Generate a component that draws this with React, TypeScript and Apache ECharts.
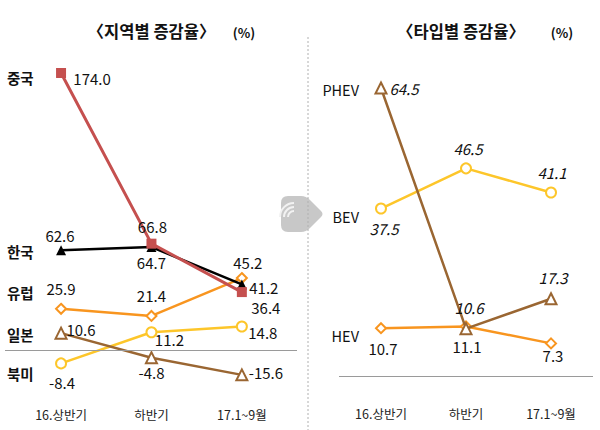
import React, { useEffect, useRef } from "react";
import * as echarts from "echarts";

const categories = ["16.상반기", "하반기", "17.1~9월"];

// Left panel: growth rate by region (%)
const china = [174.0, 66.8, 36.4];
const korea = [62.6, 64.7, 41.2];
const europe = [25.9, 21.4, 45.2];
const japan = [10.6, -4.8, -15.6];
const northAmerica = [-8.4, 11.2, 14.8];

// Right panel: growth rate by type (%)
const phev = [64.5, 10.6, 17.3];
const bev = [37.5, 46.5, 41.1];
const hev = [10.7, 11.1, 7.3];

const FONT = '"Noto Sans CJK KR", "Noto Sans", sans-serif';
const RED = "#c5504f";
const BLACK = "#000000";
const ORANGE = "#f8951f";
const YELLOW = "#fdc62a";
const BROWN = "#9a6632";

// label offsets (center of label relative to point), layout only
const offChina = [[31, 6], [1, -17], [24, 15]];
const offKorea = [[-1, -15], [0, 15], [22, 3]];
const offEurope = [[0, -20], [0, -20], [6, -16]];
const offJapan = [[20, -4], [0, 15], [24, -2]];
const offNA = [[1, 19], [18, 7], [21, 6]];
const offPhev = [[23, 1], [3, -21], [2, -21]];
const offBev = [[3, 20], [2, -20], [1, -20]];
const offHev = [[2, 20], [1, 20], [2, 12]];

function mkSeries(
  name: string,
  values: number[],
  offs: number[][],
  color: string,
  symbol: string,
  hollow: boolean,
  axisIdx: number,
  italic: boolean,
  width: number,
  size: number,
  z: number
) {
  return {
    type: "line",
    name,
    xAxisIndex: axisIdx,
    yAxisIndex: axisIdx,
    z,
    symbol,
    symbolSize: size,
    showAllSymbol: true,
    lineStyle: { color, width },
    itemStyle: {
      color: hollow ? "#ffffff" : color,
      borderColor: color,
      borderWidth: hollow ? 2 : 0,
    },
    label: {
      show: true,
      position: "inside",
      align: "center",
      verticalAlign: "middle",
      color: "#111111",
      fontSize: 15,
      fontFamily: FONT,
      fontStyle: italic ? "italic" : "normal",
      formatter: (p: any) => Number(p.value[1]).toFixed(1),
    },
    emphasis: { disabled: true },
    data: values.map((v, i) => ({
      value: [i, v],
      label: { offset: offs[i] },
    })),
  };
}

const zeroLine = {
  silent: true,
  symbol: "none",
  label: { show: false },
  lineStyle: { color: "#9a9a9a", width: 1, type: "solid" },
  data: [{ yAxis: 0 }],
};

export default function App() {
  const ref = useRef<HTMLDivElement>(null);

  useEffect(() => {
    if (!ref.current) return;
    echarts.graphic.registerShape(
      "playIcon",
      echarts.graphic.extendPath(
        "M7 0 L20 0 Q25 0 29 4 L40 15 Q43 18 40 21 L29 32 Q25 36 20 36 L7 36 Q0 36 0 29 L0 7 Q0 0 7 0 Z",
        {}
      )
    );
    const chart = echarts.init(ref.current, null, { renderer: "svg" });

    const xAxisBase = (min: number, max: number, gridIndex: number, margin: number) => ({
      type: "value",
      gridIndex,
      min,
      max,
      axisLine: { show: false },
      axisTick: { show: false },
      splitLine: { show: false },
      axisLabel: {
        customValues: [0, 1, 2],
        formatter: (v: number) => categories[Math.round(v)] ?? "",
        color: "#222",
        fontSize: 12.5,
        fontFamily: FONT,
        margin,
      },
    });
    const yAxisBase = (min: number, max: number, gridIndex: number) => ({
      type: "value",
      gridIndex,
      min,
      max,
      axisLine: { show: false },
      axisTick: { show: false },
      splitLine: { show: false },
      axisLabel: { show: false },
    });

    const textStyle = (t: string, size: number, weight: string, align: string) => ({
      text: t,
      fontSize: size,
      fontWeight: weight,
      fontFamily: FONT,
      fill: "#111111",
      align,
      verticalAlign: "middle",
    });

    const chinaS: any = mkSeries("중국", china, offChina, RED, "rect", false, 0, false, 3, 10, 6);
    const koreaS: any = mkSeries("한국", korea, offKorea, BLACK, "triangle", false, 0, false, 2.5, 10, 5);
    const europeS: any = mkSeries("유럽", europe, offEurope, ORANGE, "diamond", true, 0, false, 2.5, 10, 4);
    const japanS: any = mkSeries("일본", japan, offJapan, BROWN, "triangle", true, 0, false, 2.5, 11, 3);
    const naS: any = mkSeries("북미", northAmerica, offNA, YELLOW, "circle", true, 0, false, 2.5, 10, 3);
    japanS.markLine = zeroLine;

    const phevS: any = mkSeries("PHEV", phev, offPhev, BROWN, "triangle", true, 1, true, 2.5, 11, 4);
    const bevS: any = mkSeries("BEV", bev, offBev, YELLOW, "circle", true, 1, true, 2.5, 10, 3);
    const hevS: any = mkSeries("HEV", hev, offHev, ORANGE, "diamond", true, 1, false, 2.5, 10, 3);
    hevS.markLine = zeroLine;

    chart.setOption({
      animation: false,
      backgroundColor: "#ffffff",
      grid: [
        { left: 5, right: 303, top: 47.5, bottom: 32.2 },
        { left: 339, right: 7, top: 47.5, bottom: 31.7 },
      ],
      xAxis: [xAxisBase(-0.62, 2.61, 0, 10), xAxisBase(-0.494, 2.494, 1, 9)],
      yAxis: [yAxisBase(-30, 190, 0), yAxisBase(-5, 73.57, 1)],
      series: [naS, japanS, europeS, koreaS, chinaS, hevS, bevS, phevS],
      graphic: [
        {
          type: "line",
          shape: { x1: 308, y1: 37, x2: 308, y2: 430 },
          style: { stroke: "#b0b0b0", lineWidth: 1, lineDash: [2, 2] },
          z: 1,
        },
        {
          type: "playIcon",
          x: 281,
          y: 196,
          style: { fill: "#c8c8c8" },
          z: 0,
        },
        { type: "arc", shape: { cx: 294, cy: 217, r: 6, startAngle: Math.PI, endAngle: Math.PI * 1.5 }, style: { stroke: "#f2f2f2", lineWidth: 2, fill: "none" }, z: 0 },
        { type: "arc", shape: { cx: 294, cy: 217, r: 10, startAngle: Math.PI, endAngle: Math.PI * 1.5 }, style: { stroke: "#f2f2f2", lineWidth: 2, fill: "none" }, z: 0 },
        { type: "arc", shape: { cx: 294, cy: 217, r: 14, startAngle: Math.PI, endAngle: Math.PI * 1.5 }, style: { stroke: "#f2f2f2", lineWidth: 2, fill: "none" }, z: 0 },
        { type: "text", x: 151.5, y: 31, style: textStyle("〈지역별 증감율〉", 16.5, "bold", "center") },
        { type: "text", x: 244, y: 32, style: textStyle("(%)", 13, "bold", "center") },
        { type: "text", x: 461, y: 31, style: textStyle("〈타입별 증감율〉", 16.5, "bold", "center") },
        { type: "text", x: 562, y: 32, style: textStyle("(%)", 13, "bold", "center") },
        { type: "text", x: 7, y: 77, style: textStyle("중국", 14.5, "bold", "left") },
        { type: "text", x: 7, y: 251, style: textStyle("한국", 14.5, "bold", "left") },
        { type: "text", x: 7, y: 292, style: textStyle("유럽", 14.5, "bold", "left") },
        { type: "text", x: 7, y: 334, style: textStyle("일본", 14.5, "bold", "left") },
        { type: "text", x: 7, y: 373, style: textStyle("북미", 14.5, "bold", "left") },
        { type: "text", x: 359, y: 89, style: textStyle("PHEV", 14.5, "normal", "right") },
        { type: "text", x: 359, y: 216, style: textStyle("BEV", 14.5, "normal", "right") },
        { type: "text", x: 359, y: 335, style: textStyle("HEV", 14.5, "normal", "right") },
      ],
    });
    return () => chart.dispose();
  }, []);

  return (
    <div
      ref={ref}
      style={{ position: "fixed", left: 0, top: 0, width: 600, height: 430 }}
    />
  );
}
